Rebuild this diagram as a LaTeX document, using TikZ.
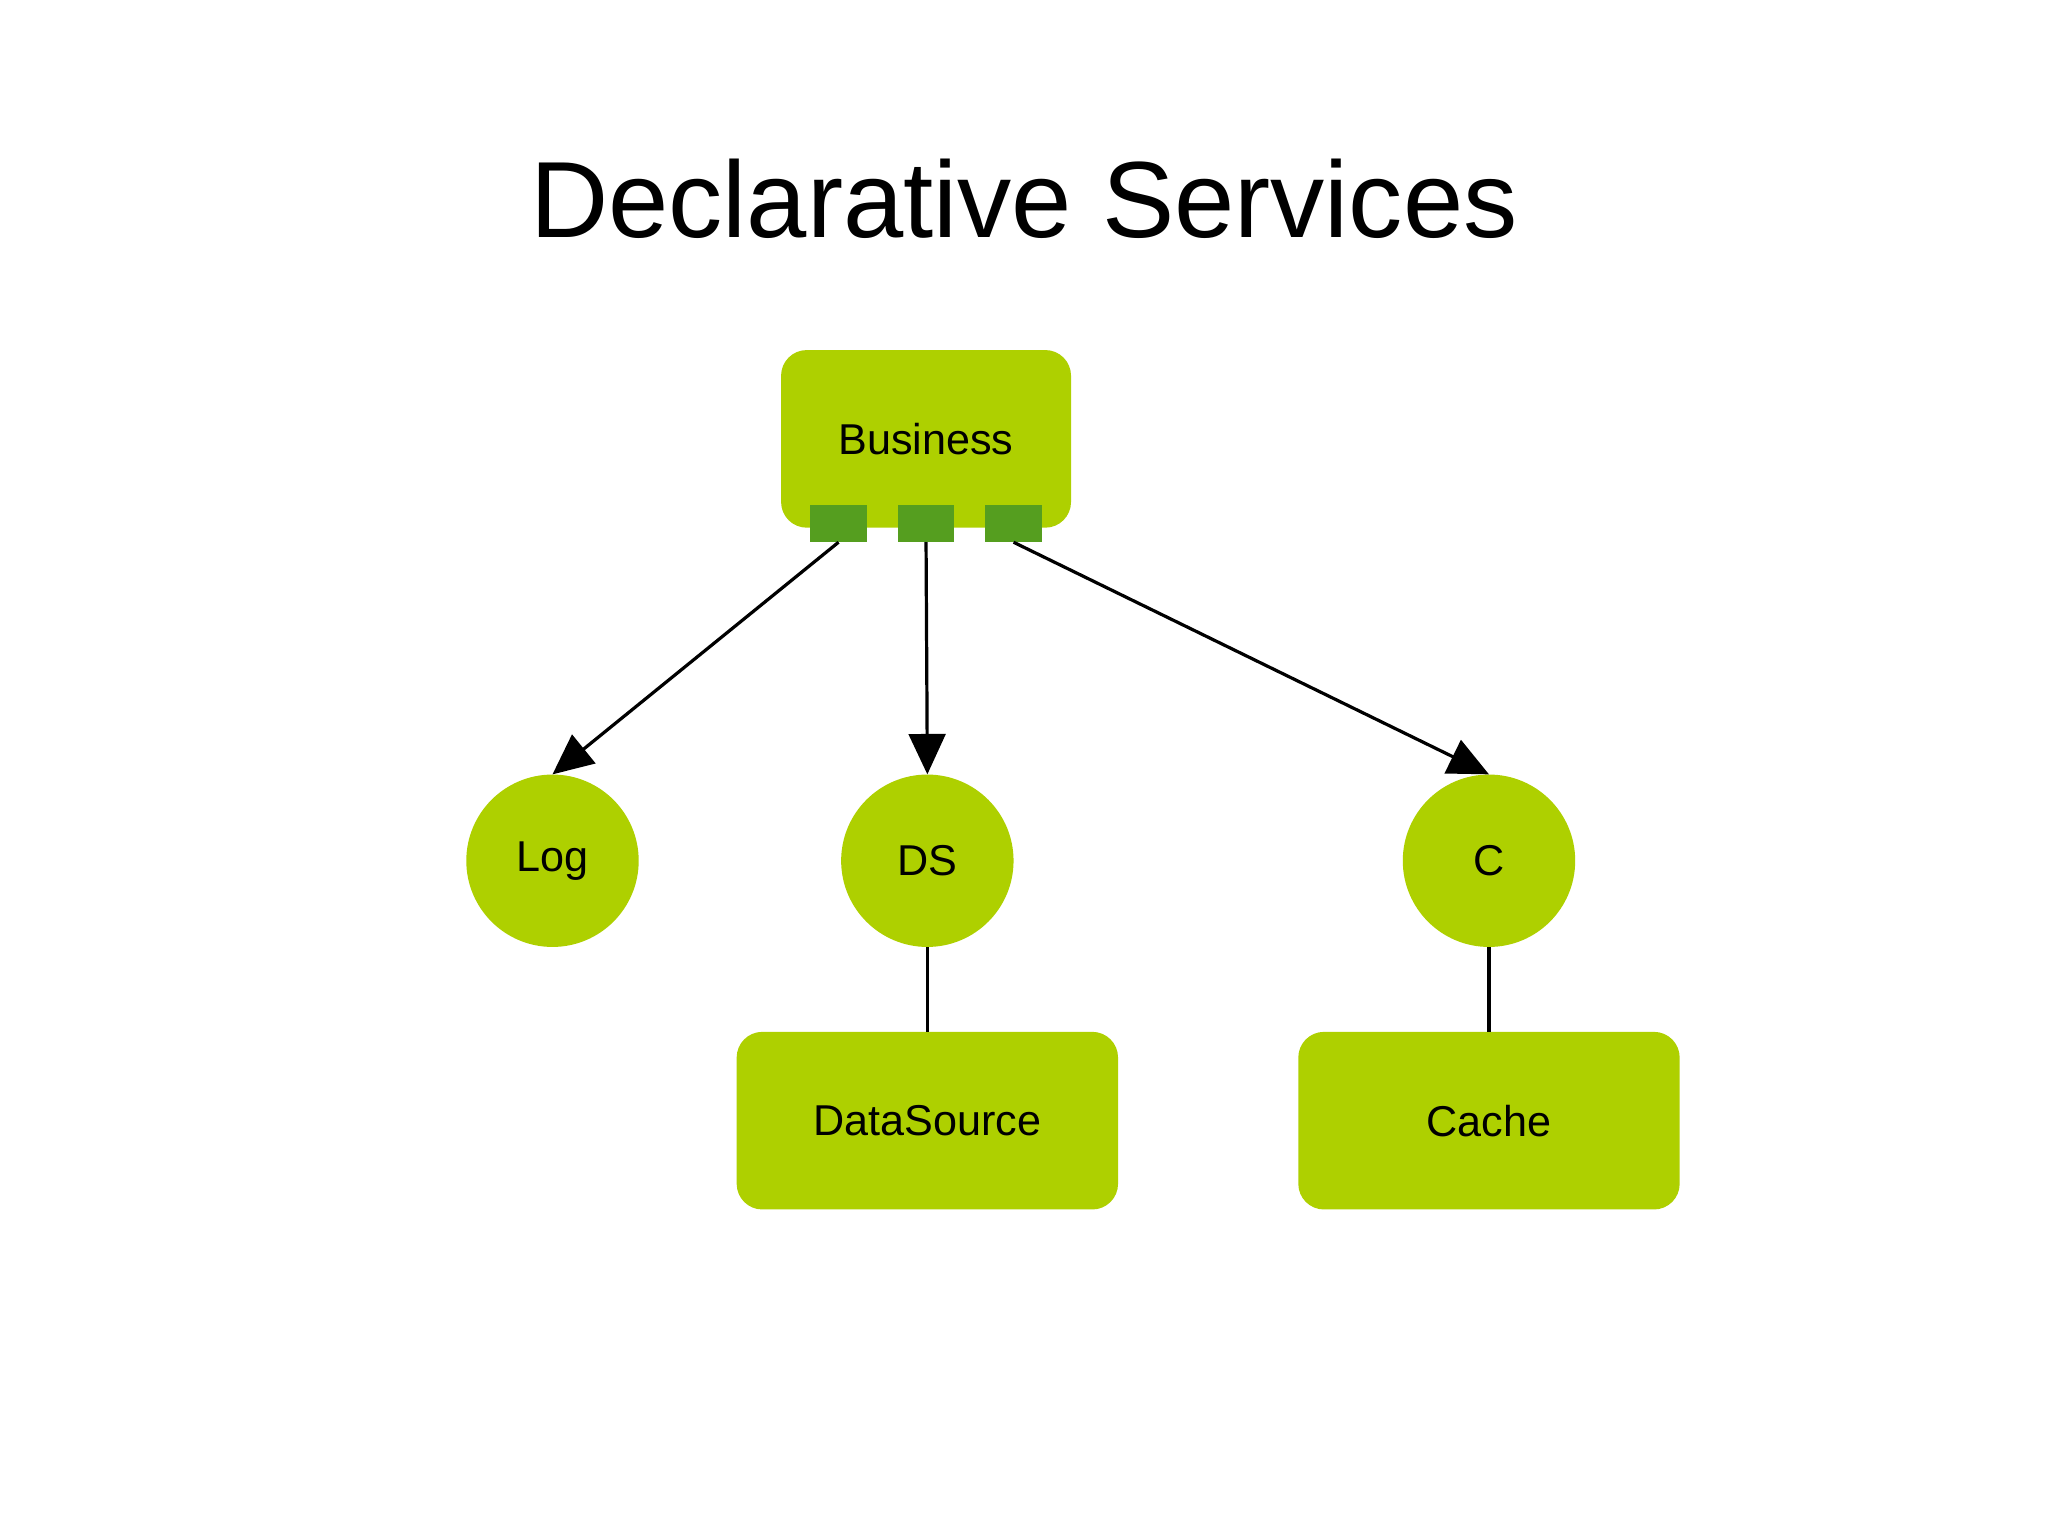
\documentclass[tikz,border=0pt]{standalone}
\usepackage{fontspec}
\setmainfont{Liberation Sans}
\usetikzlibrary{arrows.meta}
\definecolor{lime}{HTML}{AED000}
\definecolor{port}{HTML}{559E1F}
\begin{document}
\begin{tikzpicture}[x=0.05cm,y=-0.05cm,
  box/.style={fill=lime,rounded corners=28pt,inner sep=0pt,font=\fontsize{47}{50}\selectfont},
  circ/.style={circle,fill=lime,minimum size=132*0.05cm,inner sep=0pt,font=\fontsize{47}{50}\selectfont},
  prt/.style={fill=port,minimum width=43*0.05cm,minimum height=28*0.05cm,inner sep=0pt},
  conn/.style={line width=3.5pt},
  arr/.style={conn,-{Triangle[length=44pt,width=40pt]}}]
\useasboundingbox (0,0) rectangle (1568,1177);
\node[font=\fontsize{118}{120}\selectfont] (title) at (784,152) {Declarative Services};
\node[box,minimum width=222*0.05cm,minimum height=136*0.05cm] (bus) at (709,336) {Business};
\node[prt] (p1) at (642,401) {};
\node[prt] (p2) at (709,401) {};
\node[prt] (p3) at (776,401) {};
\node[circ] (log) at (423,659) {Log};
\node[circ] (ds) at (710,659) {DS};
\node[circ] (c) at (1140,659) {C};
\node[box,minimum width=292*0.05cm,minimum height=136*0.05cm] (dsrc) at (710,858) {DataSource};
\node[box,minimum width=292*0.05cm,minimum height=136*0.05cm] (cache) at (1140,858) {Cache};
\draw[arr] (p1.south) -- (log.north);
\draw[arr] (p2.south) -- (ds.north);
\draw[arr] (p3.south) -- (c.north);
\draw[conn] (ds.south) -- (dsrc.north);
\draw[conn] (c.south) -- (cache.north);
\end{tikzpicture}
\end{document}
